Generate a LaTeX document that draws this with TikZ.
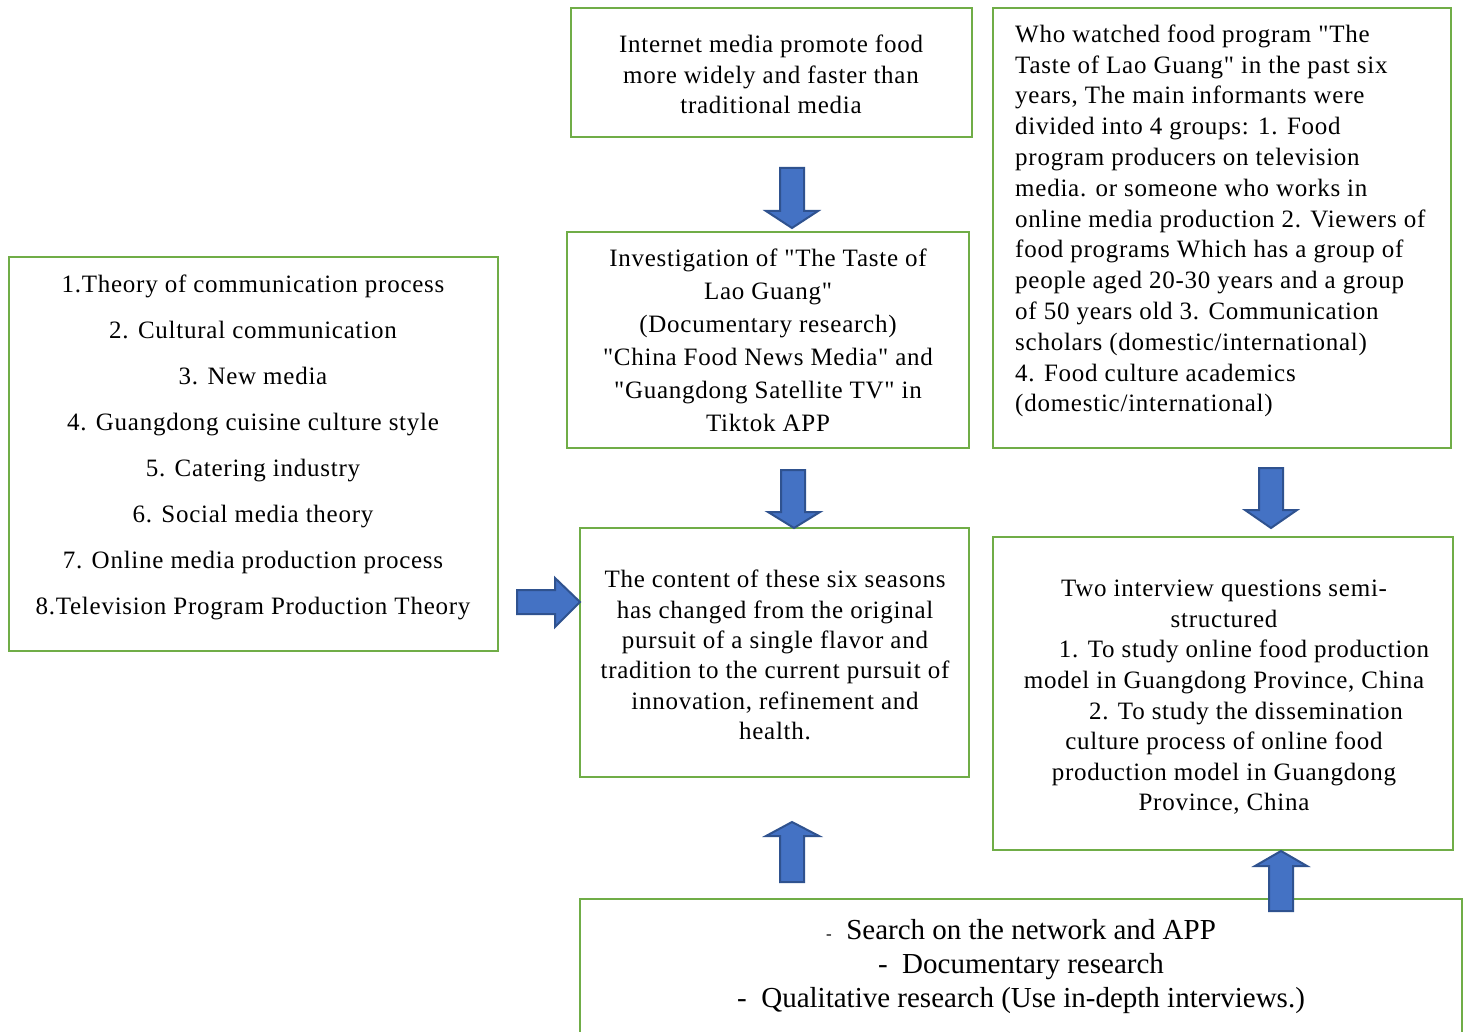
\documentclass[tikz,border=0pt]{standalone}
\usepackage{fontspec}
\setmainfont{Liberation Serif}[LetterSpace=3, Ligatures=TeXOff]
\newfontfamily\plainserif{Liberation Serif}[Ligatures=TeXOff]
\definecolor{boxgreen}{RGB}{112,173,71}
\definecolor{arrowfill}{RGB}{68,114,196}
\definecolor{arrowline}{RGB}{47,82,143}
\tikzset{
  box/.style={draw=boxgreen, line width=1.5pt, fill=white, inner sep=0pt},
  txt/.style={align=center, inner sep=0pt, font=\fontsize{25}{31}\selectfont},
  blockarrow/.style={fill=arrowfill, draw=arrowline, line width=2pt, line join=miter}
}
\begin{document}
\begin{tikzpicture}[x=1pt, y=-1pt]
\clip (0,0) rectangle (1469,1032);
\fill[white] (0,0) rectangle (1469,1032);

% frames
\node[box, minimum width=401, minimum height=129] (media)   at (771.5,72.5) {};
\node[box, minimum width=402, minimum height=216] (invest)  at (768,340) {};
\node[box, minimum width=458, minimum height=440] (inform)  at (1222,228) {};
\node[box, minimum width=489, minimum height=394] (theory)  at (253.5,454) {};
\node[box, minimum width=389, minimum height=249] (content) at (774.5,652.5) {};
\node[box, minimum width=460, minimum height=313] (questions) at (1223,693.5) {};
\node[box, minimum width=882, minimum height=150] (methods) at (1021,974) {};

% texts
\node[txt, font=\fontsize{25}{30.5}\selectfont] (mediatxt) at (771,74.5)
  {Internet media promote food\\ more widely and faster than\\ traditional media};

\node[txt, font=\fontsize{25}{33}\selectfont] (investtxt) at (768,340.5)
  {Investigation of "The Taste of\\ Lao Guang"\\ (Documentary research)\\
   "China Food News Media" and\\ "Guangdong Satellite TV" in\\ Tiktok APP};

\node[txt, align=left, anchor=west, font=\fontsize{25}{30.8}\selectfont] (informtxt) at (1015,221)
  {Who watched food program "The\\
   Taste of Lao Guang" in the past six\\
   years, The main informants were\\
   divided into 4 groups: 1. Food\\
   program producers on television\\
   media. or someone who works in\\
   online media production 2. Viewers of\\
   food programs Which has a group of\\
   people aged 20-30 years and a group\\
   of 50 years old 3. Communication\\
   scholars (domestic/international)\\
   4. Food culture academics\\
   (domestic/international)};

\node[txt, font=\fontsize{25}{46}\selectfont] (theorytxt) at (253,447)
  {1.Theory of communication process\\
   2. Cultural communication\\
   3. New media\\
   4. Guangdong cuisine culture style\\
   5. Catering industry\\
   6. Social media theory\\
   7. Online media production process\\
   8.Television Program Production Theory};

\node[txt, font=\fontsize{25}{30.4}\selectfont] (contenttxt) at (775,655)
  {The content of these six seasons\\ has changed from the original\\
   pursuit of a single flavor and\\ tradition to the current pursuit of\\
   innovation, refinement and\\ health.};

\node[txt, font=\fontsize{25}{30.6}\selectfont] (questionstxt) at (1224,697.5)
  {Two interview questions semi-\\ structured\\
   \hspace*{40pt}1. To study online food production\\
   model in Guangdong Province, China\\
   \hspace*{44pt}2. To study the dissemination\\
   culture process of online food\\
   production model in Guangdong\\
   Province, China};

\node[txt, font=\plainserif\fontsize{29}{34}\selectfont] (methodstxt) at (1021,967)
  {{\fontsize{17}{17}\selectfont -}\ \ Search on the network and APP\\
   -\ \ Documentary research\\
   -\ \ Qualitative research (Use in-depth interviews.)};

% block arrows between the frames
\draw[blockarrow] (780,168) -- (804,168) -- (804,211) -- (818,211) -- (792,228) -- (766,211) -- (780,211) -- cycle;
\draw[blockarrow] (781,470) -- (805,470) -- (805,512) -- (820,512) -- (794,528) -- (768,512) -- (781,512) -- cycle;
\draw[blockarrow] (1259,468) -- (1283,468) -- (1283,510) -- (1297,510) -- (1271,528) -- (1245,510) -- (1259,510) -- cycle;
\draw[blockarrow] (1269,911) -- (1293,911) -- (1293,866) -- (1307,866) -- (1281,851) -- (1255,866) -- (1269,866) -- cycle;
\draw[blockarrow] (780,882) -- (804,882) -- (804,836) -- (819,836) -- (792,822) -- (766,836) -- (780,836) -- cycle;
\draw[blockarrow] (517,590) -- (555,590) -- (555,578) -- (580,602) -- (555,627) -- (555,614) -- (517,614) -- cycle;
\end{tikzpicture}
\end{document}
